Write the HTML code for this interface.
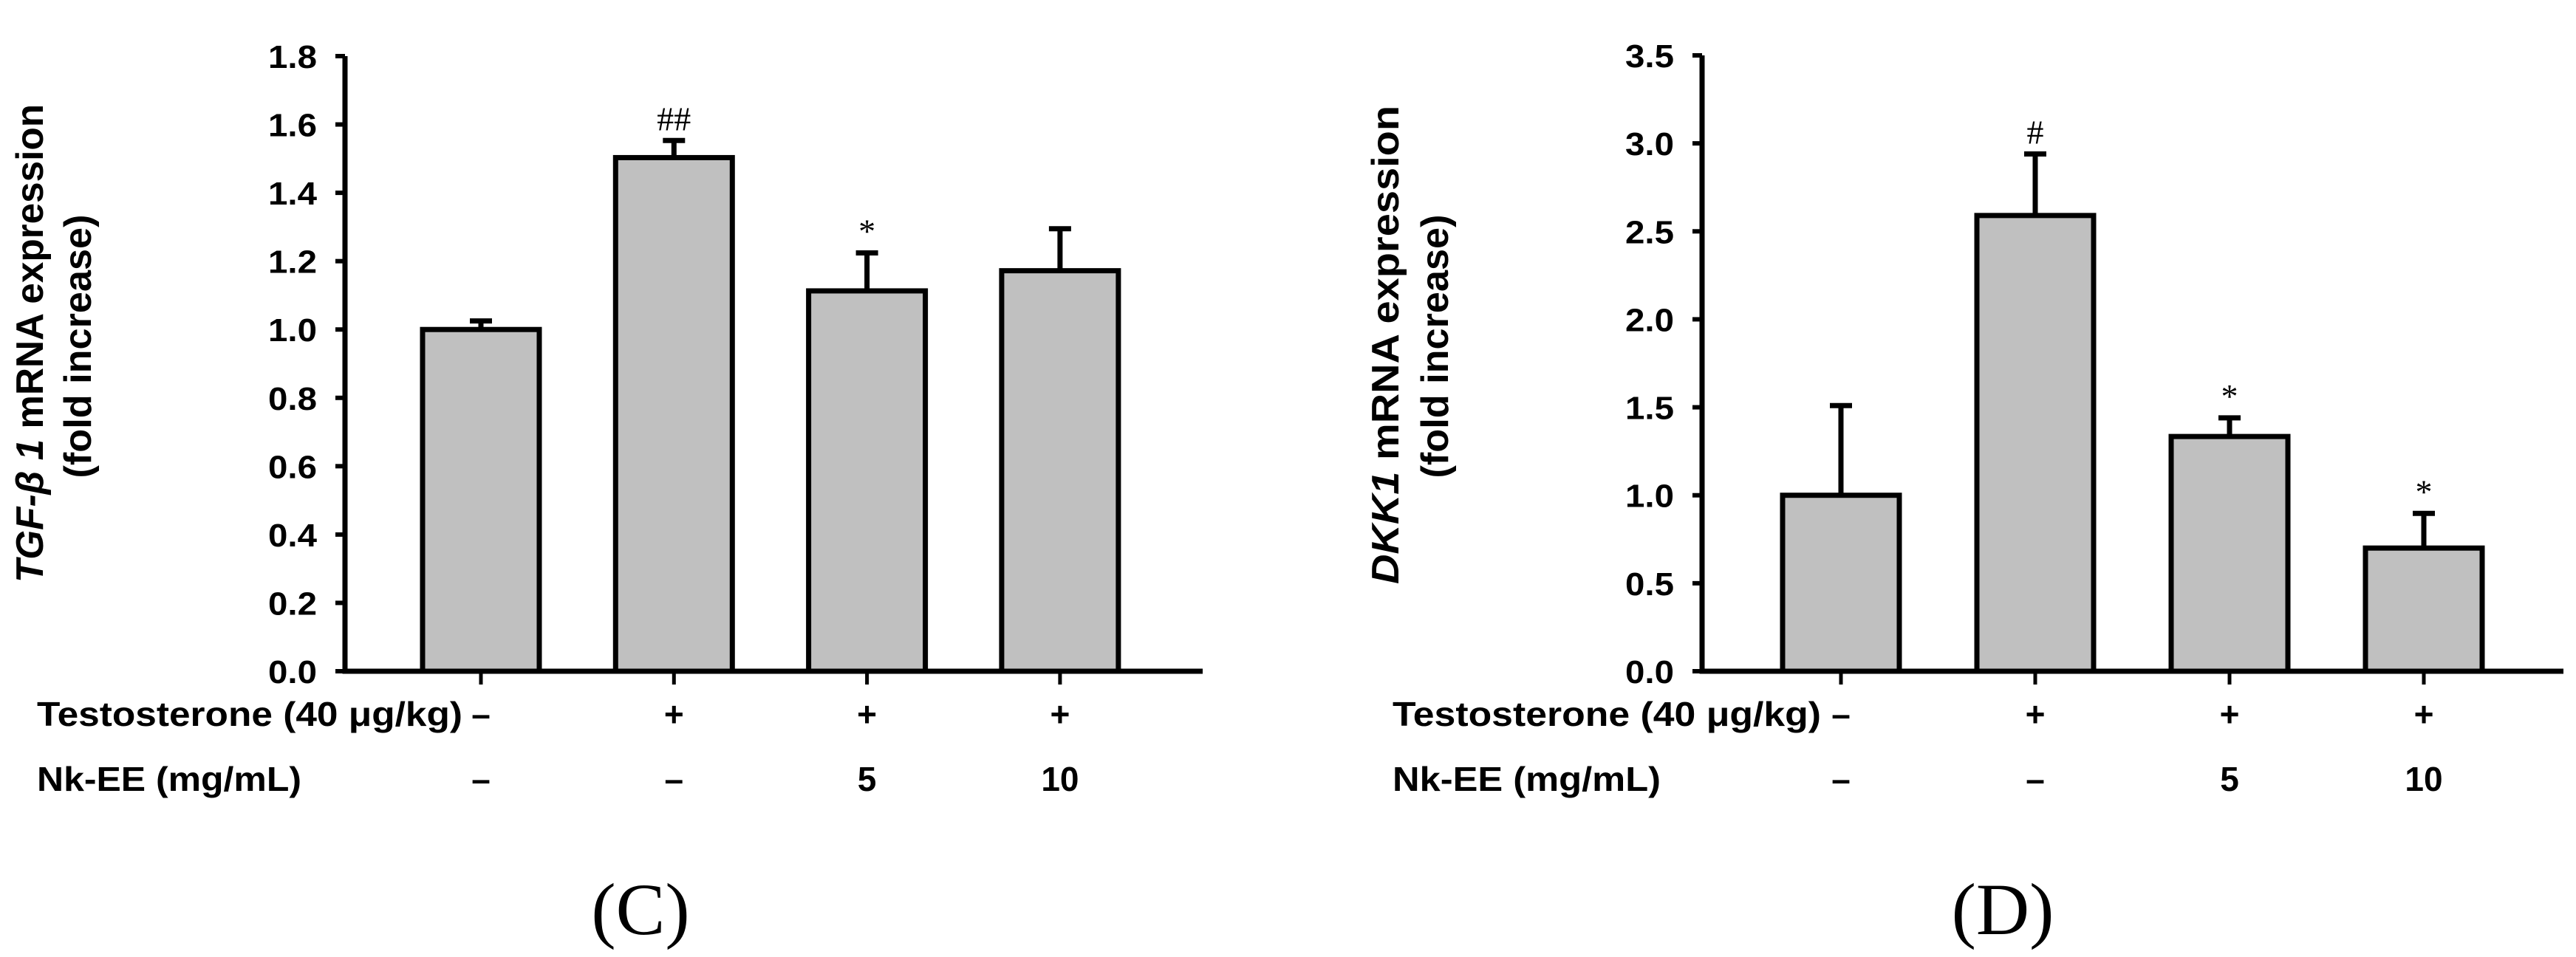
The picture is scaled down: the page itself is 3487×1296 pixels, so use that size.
<!DOCTYPE html>
<html><head><meta charset="utf-8"><style>
html,body{margin:0;padding:0;background:#fff;}
svg{display:block;}
text{font-family:"Liberation Sans",sans-serif;}
</style></head><body>
<svg id="fig" width="3487" height="1296" viewBox="0 0 3487 1296" xmlns="http://www.w3.org/2000/svg"></svg>
<script>
// Panel C data
const catsC = ["control", "testosterone", "nk-ee-5", "nk-ee-10"];
const valuesC = [1.0, 1.503, 1.113, 1.172];
const errorsC = [0.025, 0.05, 0.111, 0.123];
const annotC = ["", "##", "*", ""];
const ticksC = [0.0, 0.2, 0.4, 0.6, 0.8, 1.0, 1.2, 1.4, 1.6, 1.8];
// Panel D data
const catsD = ["control", "testosterone", "nk-ee-5", "nk-ee-10"];
const valuesD = [1.0, 2.59, 1.334, 0.70];
const errorsD = [0.51, 0.35, 0.106, 0.197];
const annotD = ["", "#", "*", "*"];
const ticksD = [0.0, 0.5, 1.0, 1.5, 2.0, 2.5, 3.0, 3.5];
// Row labels
const testoRow = ["\u2013", "+", "+", "+"];
const nkRow = ["\u2013", "\u2013", "5", "10"];

const NS = "http://www.w3.org/2000/svg";
const svg = document.getElementById("fig");
function mk(tag, attrs, parent) {
  const e = document.createElementNS(NS, tag);
  for (const k in attrs) e.setAttribute(k, attrs[k]);
  (parent || svg).appendChild(e);
  return e;
}

function panel(o) {
  const g = mk("g", {});
  
  
  const y = v => o.y0 - (v - o.min) / (o.max - o.min) * (o.y0 - o.yTop);
  const x = i => o.x0 + i * o.step;
  o.vals.forEach((v, i) => {
    const bw = o.barW;
    const r = mk("rect", {x: x(i) - bw / 2, y: y(v), width: bw, height: o.y0 - y(v), fill: "#c0c0c0", stroke: "#000", "stroke-width": 7}, g);
    
    
    const e = mk("path", {d: `M${x(i)} ${y(v)} V${y(v + o.errs[i])} M${x(i) - 15} ${y(v + o.errs[i])} H${x(i) + 15}`, stroke: "#000", "stroke-width": 7, fill: "none"}, g);
    
    
    if (o.annot[i]) {
      const t = mk("text", {x: x(i), y: y(v + o.errs[i]) - 14, "text-anchor": "middle", style: "font-family:'Liberation Serif',serif;font-size:46px"}, g);
      t.textContent = o.annot[i];
      
      
    }
    const tk = mk("line", {x1: x(i), x2: x(i), y1: o.y0, y2: o.y0 + 18, stroke: "#000", "stroke-width": 5}, g);
    
    
    const t1 = mk("text", {x: x(i), y: o.row1 + 16, "text-anchor": "middle", "font-size": 46, "font-weight": "bold"}, g);
    t1.textContent = testoRow[i];
    
    
    const t2 = mk("text", {x: x(i), y: o.row2 + 16, "text-anchor": "middle", "font-size": 46, "font-weight": "bold"}, g);
    t2.textContent = nkRow[i];
    
    
  });
  const ax = mk("path", {d: `M${o.axX} ${o.yTop} V${o.y0} H${o.xEnd}`, stroke: "#000", "stroke-width": 7, fill: "none"}, g);
  
  
  o.ticks.forEach(tv => {
    const l = mk("line", {x1: o.axX - 13, x2: o.axX, y1: y(tv), y2: y(tv), stroke: "#000", "stroke-width": 6}, g);
    
    
    const t = mk("text", {x: o.axX - 38, y: y(tv) + 16, "text-anchor": "end", "font-size": 44, "font-weight": "bold", textLength: 66, lengthAdjust: "spacingAndGlyphs"}, g);
    t.textContent = tv.toFixed(1);
    
    
  });
  const t1 = mk("text", {transform: `translate(${o.tx1},${o.titleY}) rotate(-90)`, "text-anchor": "middle", "font-size": 52, "font-weight": "bold", textLength: 648, lengthAdjust: "spacingAndGlyphs"}, g);
  t1.innerHTML = o.title1;
  
  
  const t2 = mk("text", {transform: `translate(${o.tx2},${o.title2Y}) rotate(-90)`, "text-anchor": "middle", "font-size": 52, "font-weight": "bold", textLength: 357, lengthAdjust: "spacingAndGlyphs"}, g);
  t2.textContent = "(fold increase)";
  
  
  const r1 = mk("text", {x: o.lx, y: o.row1 + 16, "font-size": 46, "font-weight": "bold", textLength: o.l1w, lengthAdjust: "spacingAndGlyphs"}, g);
  r1.textContent = "Testosterone (40 \u03bcg/kg)";
  
  
  const r2 = mk("text", {x: o.lx, y: o.row2 + 16, "font-size": 46, "font-weight": "bold", textLength: o.l2w, lengthAdjust: "spacingAndGlyphs"}, g);
  r2.textContent = "Nk-EE (mg/mL)";
  
  
  const p = mk("text", {x: o.px, y: 1265, "text-anchor": "middle", style: "font-family:'Liberation Serif',serif;font-size:100px"}, g);
  p.textContent = o.panel;
  
  
}

panel({name: "panel-c-chart", cats: catsC, vals: valuesC, errs: errorsC, annot: annotC, ticks: ticksC,
  min: 0, max: 1.8, y0: 909, yTop: 76, x0: 651, step: 261.3, barW: 158, axX: 467, xEnd: 1628,
  row1: 967, row2: 1055, lx: 50, l1w: 576, l2w: 358, tx1: 58, tx2: 123, titleY: 465, title2Y: 469,
  title1: '<tspan font-style="italic">TGF-\u03b2 1</tspan> mRNA expression', panel: "(C)", px: 867});
panel({name: "panel-d-chart", cats: catsD, vals: valuesD, errs: errorsD, annot: annotD, ticks: ticksD,
  min: 0, max: 3.5, y0: 909, yTop: 75, x0: 2492, step: 263, barW: 158, axX: 2304, xEnd: 3470,
  row1: 967, row2: 1055, lx: 1885, l1w: 580, l2w: 363, tx1: 1893, tx2: 1960, titleY: 467, title2Y: 469,
  title1: '<tspan font-style="italic">DKK1</tspan> mRNA expression', panel: "(D)", px: 2711});
</script>
</body></html>
